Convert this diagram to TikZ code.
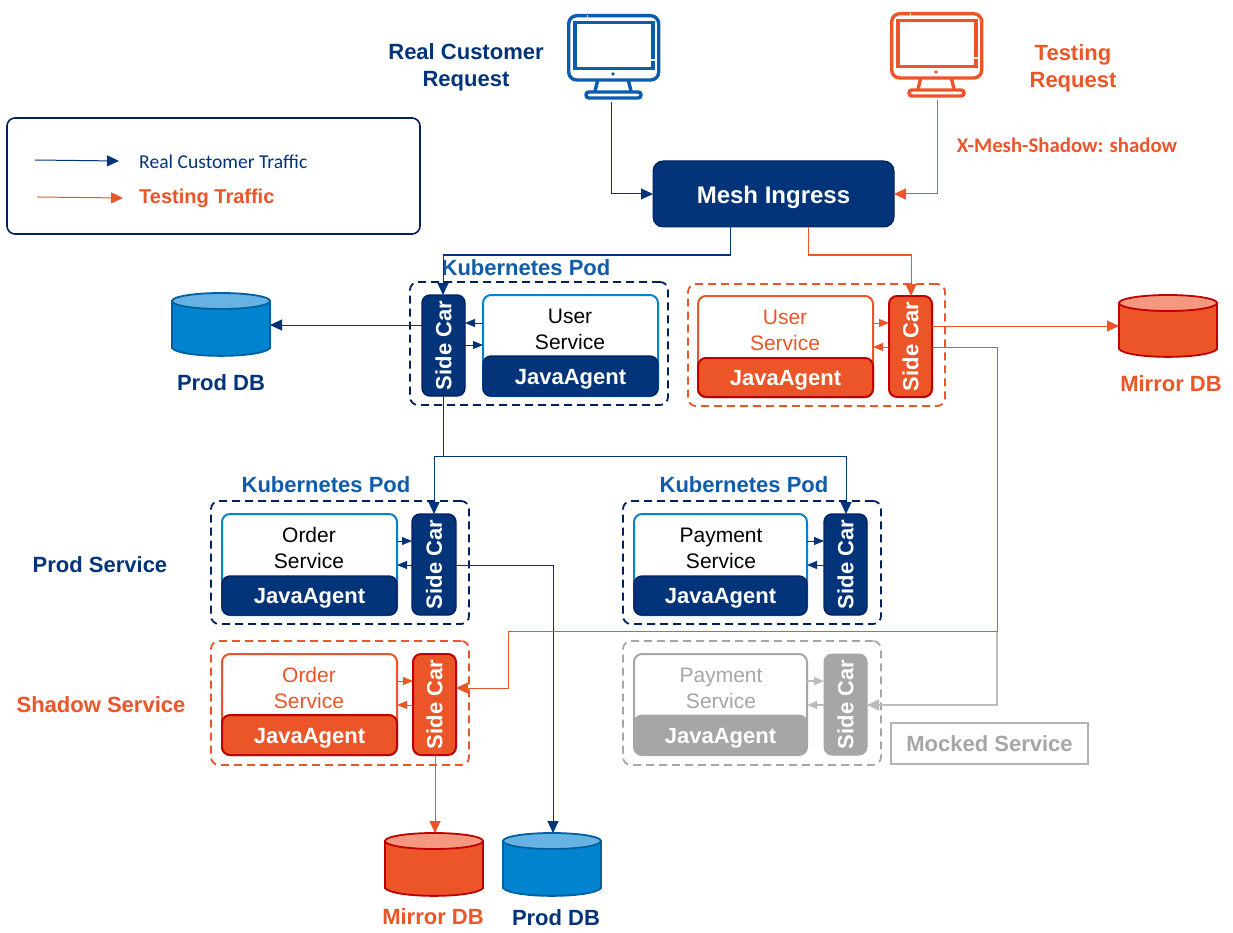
\documentclass[tikz,border=0pt]{standalone}
\usepackage{fontspec}
\usepackage{graphicx}
\setmainfont{Liberation Sans}
\newfontfamily\carlito{Carlito}
\usetikzlibrary{arrows.meta}
\definecolor{navy}{HTML}{03347A}
\definecolor{deepnavy}{HTML}{002060}
\definecolor{kube}{HTML}{0F5CAB}
\definecolor{org}{HTML}{EB5528}
\definecolor{dred}{HTML}{C00000}
\definecolor{sky}{HTML}{0084CF}
\definecolor{skyline}{HTML}{005F9F}
\definecolor{skytop}{HTML}{66B2E2}
\definecolor{orgtop}{HTML}{F4997F}
\definecolor{mgray}{HTML}{A6A6A6}
\definecolor{monblue}{HTML}{0A5CAD}
\newcommand{\Fb}{\fontsize{22}{27}\selectfont\bfseries}
\newcommand{\Fr}{\fontsize{21}{26}\selectfont}
\tikzset{
  box/.style={rectangle,inner sep=0pt,outer sep=0pt,rounded corners=8pt},
  podnavy/.style={box,draw=deepnavy,line width=1.8pt,dash pattern=on 8pt off 5pt},
  podorg/.style={box,draw=org,line width=1.8pt,dash pattern=on 8pt off 5pt},
  podgray/.style={box,draw=mgray,line width=1.8pt,dash pattern=on 8pt off 5pt},
  svcblue/.style={box,draw=sky,line width=2pt,fill=white},
  svcorg/.style={box,draw=org,line width=2pt,fill=white},
  svcgray/.style={box,draw=mgray,line width=2pt,fill=white},
  solidnavy/.style={box,draw=deepnavy,line width=1.4pt,fill=navy,text=white,font=\Fb},
  solidorg/.style={box,draw=dred,line width=2pt,fill=org,text=white,font=\Fb},
  solidgray/.style={box,draw=mgray,line width=1pt,fill=mgray,text=white,font=\Fb},
  agent/.style={text height=16pt,text depth=0pt},
  title/.style={inner sep=0pt,outer sep=0pt,align=center,font=\Fb},
  lbl/.style={inner sep=0pt,outer sep=0pt,align=center,font=\Fr},
  cnavy/.style={draw=navy,line width=1pt},
  corg/.style={draw=org,line width=1pt},
  cgray/.style={draw=mgray!75,line width=1.3pt},
  big/.style={-{Triangle[length=12pt,width=11pt]}},
  small/.style={-{Triangle[length=10pt,width=8pt]}},
}
% [style] name x1 y1 x2 y2 text
\newcommand{\Bx}[7][]{%
  \pgfmathsetmacro\myw{#5-#3}\pgfmathsetmacro\myh{#6-#4}%
  \pgfmathsetmacro\myx{(#5+#3)/2}\pgfmathsetmacro\myy{(#6+#4)/2}%
  \node[#1,minimum width=\myw pt,minimum height=\myh pt] (#2) at (\myx,\myy) {#7};}
\newcommand{\Sc}{\rotatebox{90}{Side Car}}
% name x1 y1 x2 y2 body top line
\newcommand{\DB}[8]{%
  \pgfmathsetmacro\myw{#4-#2}\pgfmathsetmacro\myh{#5-#3}%
  \pgfmathsetmacro\myx{(#4+#2)/2}\pgfmathsetmacro\myy{(#5+#3)/2}%
  \pgfmathsetmacro\myrx{(#4-#2)/2}%
  \node[rectangle,inner sep=0pt,outer sep=0pt,minimum width=\myw pt,minimum height=\myh pt] (#1) at (\myx,\myy) {};
  \filldraw[fill=#6,draw=#8,line width=1.8pt] (#2,#3+8) -- (#2,#5-8)
     .. controls (#2+8,#5+2.5) and (#4-8,#5+2.5) .. (#4,#5-8) -- (#4,#3+8) -- cycle;
  \filldraw[fill=#7,draw=#8,line width=1.8pt] (\myx,#3+8) ellipse [x radius=\myrx pt,y radius=8pt];}
% x offset, y offset, colour
\newcommand{\Mon}[3]{%
  \begin{scope}[shift={(#1,#2)},draw=#3,line width=3.4pt]
    \draw[rounded corners=8pt] (568.7,15.7) rectangle (658.7,80);
    \draw[white,line width=2pt] (587,15.7) -- (588,15.7);
    \draw (574.8,22.8) rectangle (653,68.5);
    \draw[white,line width=1.5pt] (651,60) -- (655,60);
    \fill[#3] (613,74) circle (1.8pt);
    \draw (597.5,81) -- (595,91);
    \draw (628.5,81) -- (631,91);
    \draw[rounded corners=2.8pt] (586,92) rectangle (641,98);
  \end{scope}}
\begin{document}
\begin{tikzpicture}[x=1pt,y=-1pt]
\useasboundingbox (0,0) rectangle (1233,933);
\fill[white] (0,0) rectangle (1233,933);

% monitors
\Mon{0}{0}{monblue}
\Mon{323}{-2}{org}
\coordinate (monA) at (611.5,102);
\coordinate (monB) at (937.5,100);

% titles
\node[title,text=navy] (treal) at (466,67) {Real Customer\\Request};
\node[title,text=org] (ttest) at (1073,68) {Testing\\Request};
\node[title,text=org,font=\carlito\fontsize{20.8}{24}\selectfont\bfseries] (thdr) at (1067,145) {X-Mesh-Shadow: shadow};

% legend
\Bx[box,draw=deepnavy,line width=1.6pt]{legend}{7}{118}{420}{234}{}
\coordinate (la1) at (35,160);
\coordinate (la2) at (119,161);
\coordinate (lb1) at (37,197);
\coordinate (lb2) at (123,198);
\draw[cnavy,big] (la1) -- (la2);
\draw[corg,big] (lb1) -- (lb2);
\node[inner sep=0pt,anchor=west,text=navy,font=\carlito\fontsize{19.6}{22}\selectfont] (lt1) at (139,162) {Real Customer Traffic};
\node[inner sep=0pt,anchor=west,text=org,font=\fontsize{20}{24}\selectfont\bfseries] (lt2) at (139,198) {Testing Traffic};

% ingress
\Bx[box,rounded corners=10pt,draw=deepnavy,line width=1pt,fill=navy,text=white,font=\fontsize{24}{28}\selectfont\bfseries,text height=20pt,text depth=0pt]{ingress}{653}{161}{894}{227}{Mesh Ingress}

% pods
\Bx[podnavy]{podU}{410}{282}{668}{405}{}
\Bx[podorg]{podUs}{688}{284}{945}{406}{}
\Bx[podnavy]{podO}{211}{501}{469}{624}{}
\Bx[podnavy]{podP}{623}{501}{881}{624}{}
\Bx[podorg]{podOs}{211}{641}{469}{765}{}
\Bx[podgray]{podPm}{623}{641}{881}{765}{}

\node[title,text=kube] (kU) at (526,268) {Kubernetes Pod};
\node[title,text=kube] (kO) at (326,485) {Kubernetes Pod};
\node[title,text=kube] (kP) at (744,485) {Kubernetes Pod};
\node[title,text=navy] (rowP) at (100,565) {Prod Service};
\node[title,text=org] (rowS) at (101,705) {Shadow Service};

% user prod
\Bx[solidnavy]{scU}{422}{295}{465}{396}{\Sc}
\Bx[svcblue]{svU}{483}{295}{658}{396}{}
\Bx[solidnavy,agent]{jaU}{483}{356}{658}{396}{JavaAgent}
\node[lbl] (tU) at (570,329) {User\\Service};
% user shadow
\Bx[svcorg]{svUs}{698}{296}{873}{397}{}
\Bx[solidorg,agent]{jaUs}{698}{358}{873}{397}{JavaAgent}
\Bx[solidorg]{scUs}{889}{296}{932}{397}{\Sc}
\node[lbl,text=org] (tUs) at (785,330) {User\\Service};
% order prod
\Bx[svcblue]{svO}{222}{514}{397}{615}{}
\Bx[solidnavy,agent]{jaO}{222}{576}{397}{615}{JavaAgent}
\Bx[solidnavy]{scO}{412}{514}{456}{615}{\Sc}
\node[lbl] (tO) at (309,548) {Order\\Service};
% payment prod
\Bx[svcblue]{svP}{634}{514}{807}{615}{}
\Bx[solidnavy,agent]{jaP}{634}{576}{807}{615}{JavaAgent}
\Bx[solidnavy]{scP}{824}{514}{867}{615}{\Sc}
\node[lbl] (tP) at (721,548) {Payment\\Service};
% order shadow
\Bx[svcorg]{svOs}{222}{654}{397}{755}{}
\Bx[solidorg,agent]{jaOs}{222}{715}{397}{755}{JavaAgent}
\Bx[solidorg]{scOs}{413}{654}{456}{755}{\Sc}
\node[lbl,text=org] (tOs) at (309,688) {Order\\Service};
% payment mocked
\Bx[svcgray]{svPm}{634}{654}{807}{755}{}
\Bx[solidgray,agent]{jaPm}{634}{715}{807}{755}{JavaAgent}
\Bx[solidgray]{scPm}{824}{654}{867}{755}{\Sc}
\node[lbl,text=mgray] (tPm) at (721,688) {Payment\\Service};

\Bx[rectangle,inner sep=0pt,outer sep=0pt,draw=mgray!85,line width=2pt,text=mgray,font=\Fb]{mock}{891}{723}{1088}{764}{Mocked Service}

% databases
\DB{dbA}{172}{293}{270}{356}{sky}{skytop}{skyline}
\DB{dbB}{1119}{295}{1217}{357}{org}{orgtop}{dred}
\DB{dbC}{385}{833}{483}{896}{org}{orgtop}{dred}
\DB{dbD}{503}{833}{601}{896}{sky}{skytop}{skyline}
\node[title,text=navy] (ldA) at (221,383) {Prod DB};
\node[title,text=org] (ldB) at (1171,384) {Mirror DB};
\node[title,text=org] (ldC) at (433,917) {Mirror DB};
\node[title,text=navy] (ldD) at (556,918) {Prod DB};

% connectors: real traffic
\draw[cnavy,big] (monA) |- (ingress.west);
\draw[cnavy,big] (ingress.south -| 730,0) |- (443,255) -- (scU.north -| 443,0);
\draw[cnavy,big] (scU.west |- 0,325) -- (dbA.east |- 0,325);
\draw[cnavy,small] (svU.west |- 0,323) -- (scU.east |- 0,323);
\draw[cnavy,small] (scU.east |- 0,345) -- (svU.west |- 0,345);
\draw[cnavy] (scU.south -| 443,0) -- (443,456);
\draw[cnavy,big] (846,456) -- (434,456) -- (scO.north -| 434,0);
\draw[cnavy,big] (443,456) -- (846,456) -- (scP.north -| 846,0);
\draw[cnavy,small] (svO.east |- 0,541) -- (scO.west |- 0,541);
\draw[cnavy,small] (scO.west |- 0,565) -- (svO.east |- 0,565);
\draw[cnavy,small] (svP.east |- 0,541) -- (scP.west |- 0,541);
\draw[cnavy,small] (scP.west |- 0,565) -- (svP.east |- 0,565);
\draw[cnavy,big] (scO.east |- 0,565) -- (553,565) -- (dbD.north -| 553,0);

% connectors: testing traffic
\draw[corg,big] (monB) |- (ingress.east);
\draw[corg,big] (ingress.south -| 808,0) |- (911,255) -- (scUs.north -| 911,0);
\draw[corg,small] (svUs.east |- 0,323) -- (scUs.west |- 0,323);
\draw[corg,small] (scUs.west |- 0,347) -- (svUs.east |- 0,347);
\draw[corg,big] (scUs.east |- 0,326) -- (dbB.west |- 0,326);
\draw[cgray,big] (997,631) -- (997,705) -- (scPm.east |- 0,705);
\draw[corg,big] (scUs.east |- 0,347) -- (997,347) -- (997,631) -- (508,631) -- (508,688) -- (scOs.east |- 0,688);
\draw[corg,small] (svOs.east |- 0,681) -- (scOs.west |- 0,681);
\draw[corg,small] (scOs.west |- 0,705) -- (svOs.east |- 0,705);
\draw[corg,big] (scOs.south -| 435,0) -- (dbC.north -| 435,0);
\draw[cgray,small] (svPm.east |- 0,681) -- (scPm.west |- 0,681);
\draw[cgray,small] (scPm.west |- 0,705) -- (svPm.east |- 0,705);
\end{tikzpicture}
\end{document}
